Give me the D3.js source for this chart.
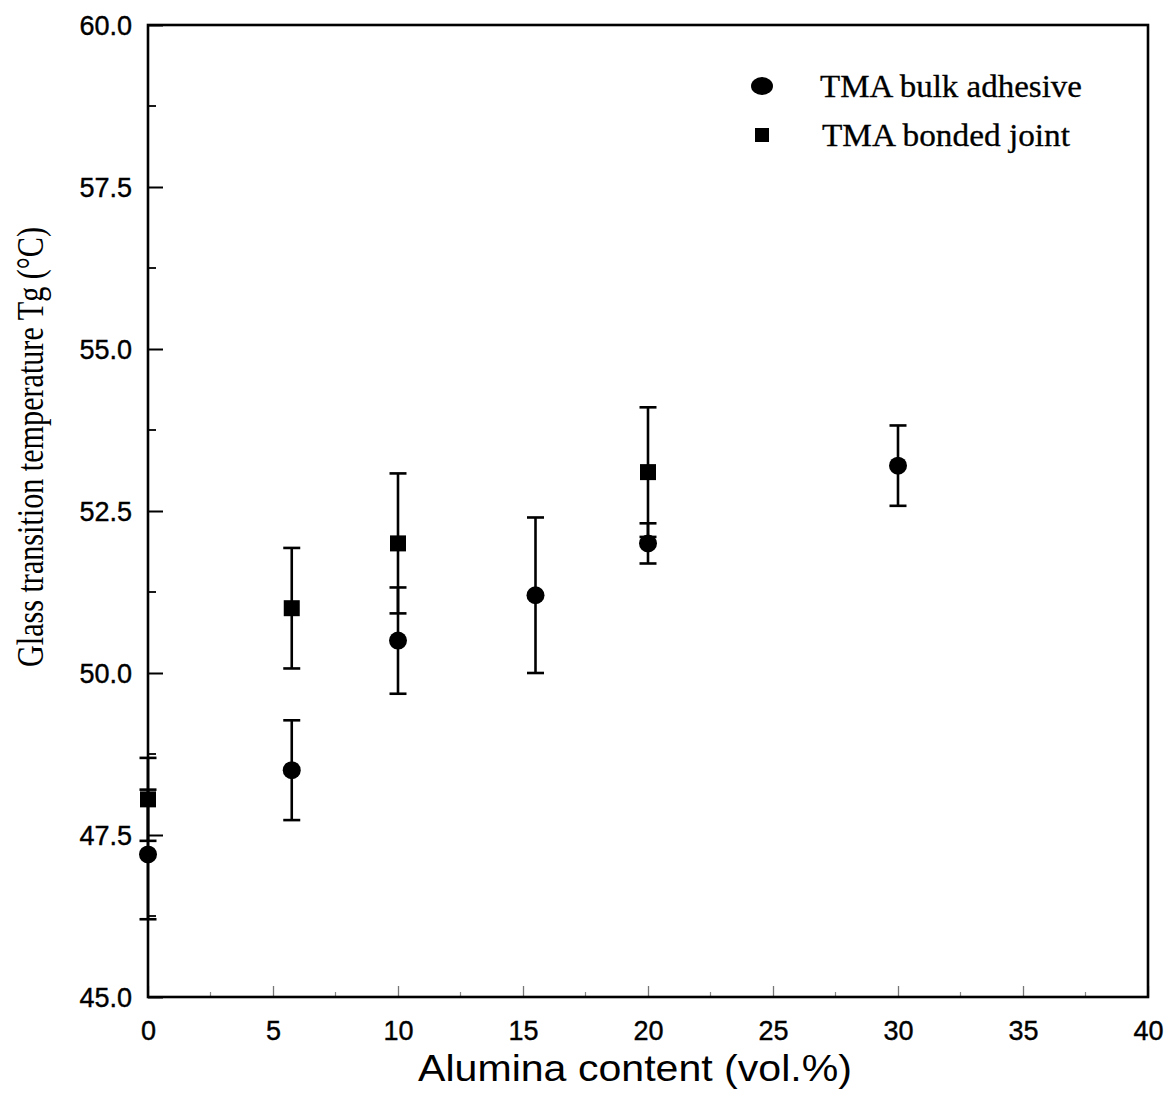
<!DOCTYPE html>
<html>
<head>
<meta charset="utf-8">
<script src="https://cdn.jsdelivr.net/npm/d3@7"></script>
<style>
  html, body { margin: 0; padding: 0; background: #fff; }
  svg { display: block; }
</style>
</head>
<body>
<svg id="chart" width="1168" height="1113"></svg>
<script>
// Alumina content (vol.%) and glass transition temperature Tg (°C) with ± error
const bulkX   = [0, 5.75, 10, 15.5, 20, 30];
const bulkY   = [47.2, 48.5, 50.5, 51.2, 52.0, 53.2];
const bulkErr = [1.0, 0.77, 0.82, 1.2, 0.31, 0.62];

const jointX   = [0, 5.75, 10, 20];
const jointY   = [48.05, 51.0, 52.0, 53.1];
const jointErr = [0.64, 0.93, 1.08, 1.0];

const xTicks = [0, 5, 10, 15, 20, 25, 30, 35, 40];
const yTicks = [45.0, 47.5, 50.0, 52.5, 55.0, 57.5, 60.0];

const seriesNames = ["TMA bulk adhesive", "TMA bonded joint"];

const svg = d3.select("#chart");
const margin = { left: 148, top: 25, right: 20, bottom: 116 };
const W = 1168, H = 1113;
const x = d3.scaleLinear().domain([0, 40]).range([margin.left, W - margin.right]);
const y = d3.scaleLinear().domain([45, 60]).range([H - margin.bottom, margin.top]);

const sans = "'Liberation Sans', Arial, sans-serif";
const serif = "'Liberation Serif', 'Times New Roman', serif";

// minor ticks between labelled ones
const xMinor = d3.range(2.5, 40, 5);
const yMinor = d3.range(46.25, 60, 2.5);

// x axis: ticks point into the plot
const xAxis = d3.axisBottom(x).tickValues(xTicks).tickSize(-11).tickPadding(0)
  .tickFormat(d3.format("d"));
const gx = svg.append("g").attr("transform", `translate(0,${y(45)})`).call(xAxis);
gx.select(".domain").remove();
gx.selectAll(".tick line").attr("stroke", "#777").attr("stroke-width", 1.3);
gx.selectAll(".tick text")
  .attr("y", 43).attr("dy", 0).attr("text-anchor", "middle")
  .attr("font-family", sans).attr("font-size", 27).attr("fill", "#000")
  .attr("stroke", "#000").attr("stroke-width", 0.4);
svg.append("g").selectAll("line").data(xMinor).join("line")
  .attr("x1", d => x(d)).attr("x2", d => x(d))
  .attr("y1", y(45)).attr("y2", y(45) - 5)
  .attr("stroke", "#888").attr("stroke-width", 1.2);

// y axis: ticks point into the plot
const yAxis = d3.axisLeft(y).tickValues(yTicks).tickSize(-15).tickPadding(16)
  .tickFormat(d3.format(".1f"));
const gy = svg.append("g").attr("transform", `translate(${x(0)},0)`).call(yAxis);
gy.select(".domain").remove();
gy.selectAll(".tick line").attr("stroke", "#000").attr("stroke-width", 2);
gy.selectAll(".tick text")
  .attr("font-family", sans).attr("font-size", 27).attr("fill", "#000")
  .attr("stroke", "#000").attr("stroke-width", 0.4)
  .attr("dy", "0.36em");
svg.append("g").selectAll("line").data(yMinor).join("line")
  .attr("x1", x(0)).attr("x2", x(0) + 8)
  .attr("y1", d => y(d)).attr("y2", d => y(d))
  .attr("stroke", "#000").attr("stroke-width", 1.8);

// plot frame
svg.append("rect")
  .attr("x", x(0)).attr("y", y(60))
  .attr("width", x(40) - x(0)).attr("height", y(45) - y(60))
  .attr("fill", "none").attr("stroke", "#000").attr("stroke-width", 2.6);

// error bars
function errorBars(xs, ys, es) {
  const g = svg.append("g").attr("stroke", "#000").attr("stroke-width", 2.6);
  const data = xs.map((d, i) => ({ x: d, y: ys[i], e: es[i] }));
  g.selectAll("line.v").data(data).join("line").attr("class", "v")
    .attr("x1", d => x(d.x)).attr("x2", d => x(d.x))
    .attr("y1", d => y(d.y - d.e)).attr("y2", d => y(d.y + d.e));
  g.selectAll("line.top").data(data).join("line").attr("class", "top")
    .attr("x1", d => x(d.x) - 8.5).attr("x2", d => x(d.x) + 8.5)
    .attr("y1", d => y(d.y + d.e)).attr("y2", d => y(d.y + d.e));
  g.selectAll("line.bot").data(data).join("line").attr("class", "bot")
    .attr("x1", d => x(d.x) - 8.5).attr("x2", d => x(d.x) + 8.5)
    .attr("y1", d => y(d.y - d.e)).attr("y2", d => y(d.y - d.e));
}
errorBars(bulkX, bulkY, bulkErr);
errorBars(jointX, jointY, jointErr);

// markers
svg.append("g").selectAll("circle").data(bulkX.map((d, i) => [d, bulkY[i]])).join("circle")
  .attr("cx", d => x(d[0])).attr("cy", d => y(d[1])).attr("r", 9).attr("fill", "#000");
svg.append("g").selectAll("rect").data(jointX.map((d, i) => [d, jointY[i]])).join("rect")
  .attr("x", d => x(d[0]) - 8).attr("y", d => y(d[1]) - 8)
  .attr("width", 16).attr("height", 16).attr("fill", "#000");

// legend
const lg = svg.append("g");
lg.append("ellipse").attr("cx", 762).attr("cy", 86).attr("rx", 11).attr("ry", 9).attr("fill", "#000");
lg.append("rect").attr("x", 755).attr("y", 128).attr("width", 14).attr("height", 14).attr("fill", "#000");
lg.append("text").attr("x", 820).attr("y", 97)
  .attr("font-family", serif).attr("font-size", 31)
  .attr("stroke", "#000").attr("stroke-width", 0.3)
  .attr("textLength", 262).attr("lengthAdjust", "spacingAndGlyphs")
  .text(seriesNames[0]);
lg.append("text").attr("x", 822).attr("y", 146)
  .attr("font-family", serif).attr("font-size", 31)
  .attr("stroke", "#000").attr("stroke-width", 0.3)
  .attr("textLength", 248).attr("lengthAdjust", "spacingAndGlyphs")
  .text(seriesNames[1]);

// axis titles
svg.append("text")
  .attr("x", (x(0) + x(40)) / 2 - 13).attr("y", 1081)
  .attr("text-anchor", "middle")
  .attr("font-family", sans).attr("font-size", 37)
  .attr("textLength", 434).attr("lengthAdjust", "spacingAndGlyphs")
  .text("Alumina content (vol.%)");
svg.append("text")
  .attr("transform", `translate(43,${447}) rotate(-90)`)
  .attr("text-anchor", "middle")
  .attr("font-family", serif).attr("font-size", 37)
  .attr("textLength", 440).attr("lengthAdjust", "spacingAndGlyphs")
  .text("Glass transition temperature Tg (°C)");
</script>
</body>
</html>
